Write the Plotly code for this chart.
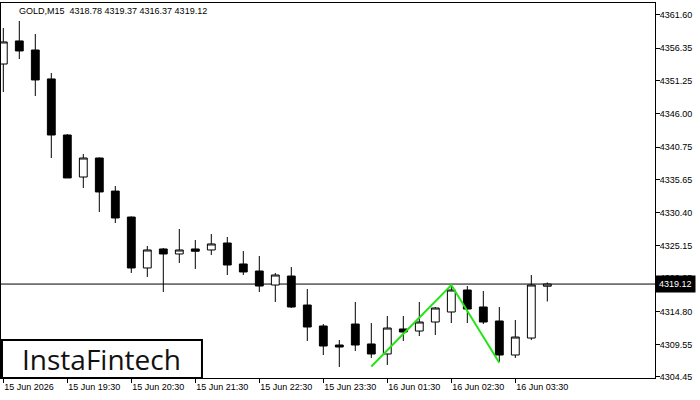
import plotly.graph_objects as go

# ---- data ----
times = [
    "15 Jun 18:30", "15 Jun 18:45", "15 Jun 19:00", "15 Jun 19:15",
    "15 Jun 19:30", "15 Jun 19:45", "15 Jun 20:00", "15 Jun 20:15",
    "15 Jun 20:30", "15 Jun 20:45", "15 Jun 21:00", "15 Jun 21:15",
    "15 Jun 21:30", "15 Jun 21:45", "15 Jun 22:00", "15 Jun 22:15",
    "15 Jun 22:30", "15 Jun 22:45", "15 Jun 23:00", "15 Jun 23:15",
    "15 Jun 23:30", "15 Jun 23:45", "16 Jun 01:00", "16 Jun 01:15",
    "16 Jun 01:30", "16 Jun 01:45", "16 Jun 02:00", "16 Jun 02:15",
    "16 Jun 02:30", "16 Jun 02:45", "16 Jun 03:00", "16 Jun 03:15",
    "16 Jun 03:30", "16 Jun 03:45", "16 Jun 04:00",
]
opens = [4353.86, 4357.50, 4356.07, 4351.50, 4342.65, 4336.02, 4339.02, 4333.80,
         4329.70, 4321.66, 4324.66, 4323.87, 4324.66, 4324.50, 4325.60, 4322.29,
         4321.18, 4318.97, 4320.39, 4315.81, 4312.50, 4309.50, 4312.81, 4309.66,
         4308.08, 4312.03, 4311.71, 4313.13, 4314.71, 4318.18, 4315.50, 4313.29,
         4307.92, 4310.60, 4318.78]
highs = [4359.55, 4360.65, 4358.60, 4352.44, 4342.81, 4339.65, 4339.10, 4334.60,
         4329.80, 4325.13, 4324.81, 4327.81, 4326.08, 4327.02, 4326.55, 4324.34,
         4323.55, 4320.87, 4321.81, 4318.34, 4312.81, 4310.29, 4316.29, 4312.97,
         4314.08, 4314.08, 4316.29, 4315.50, 4318.97, 4318.81, 4318.03, 4315.50,
         4313.45, 4320.55, 4319.37]
lows = [4349.44, 4354.65, 4348.81, 4339.02, 4335.87, 4334.29, 4330.50, 4328.76,
        4320.87, 4320.24, 4317.87, 4322.45, 4321.50, 4323.71, 4320.55, 4320.55,
        4317.87, 4316.29, 4315.34, 4310.13, 4307.92, 4306.03, 4308.55, 4307.45,
        4306.34, 4310.13, 4310.92, 4311.08, 4312.97, 4312.97, 4312.81, 4306.82,
        4307.45, 4310.29, 4316.37]
closes = [4357.34, 4355.92, 4351.34, 4342.65, 4335.87, 4339.02, 4333.66, 4329.55,
          4321.66, 4324.50, 4323.87, 4324.50, 4324.30, 4325.45, 4322.13, 4321.03,
          4318.81, 4320.55, 4315.50, 4312.34, 4309.34, 4309.18, 4309.50, 4308.08,
          4312.18, 4311.55, 4313.13, 4315.34, 4318.18, 4315.18, 4313.13, 4307.92,
          4310.76, 4318.97, 4319.12]

pattern_times = ["16 Jun 01:15", "16 Jun 02:30", "16 Jun 03:15"]
pattern_prices = [4306.10, 4318.97, 4306.70]

last_price = 4319.12
title_text = "GOLD,M15  4318.78 4319.37 4316.37 4319.12"

x_tick_times = ["15 Jun 18:30", "15 Jun 19:30", "15 Jun 20:30", "15 Jun 21:30",
                "15 Jun 22:30", "15 Jun 23:30", "16 Jun 01:30", "16 Jun 02:30",
                "16 Jun 03:30"]
x_tick_labels = ["15 Jun 2026", "15 Jun 19:30", "15 Jun 20:30", "15 Jun 21:30",
                 "15 Jun 22:30", "15 Jun 23:30", "16 Jun 01:30", "16 Jun 02:30",
                 "16 Jun 03:30"]
y_ticks = [4361.60, 4356.35, 4351.25, 4346.00, 4340.75, 4335.65, 4330.40,
           4325.15, 4320.05, 4314.80, 4309.55, 4304.45]

FONT = "Liberation Sans, Arial, sans-serif"

fig = go.Figure()
fig.add_trace(go.Candlestick(
    x=times, open=opens, high=highs, low=lows, close=closes,
    increasing=dict(line=dict(color="black", width=1), fillcolor="white"),
    decreasing=dict(line=dict(color="black", width=1), fillcolor="black"),
    whiskerwidth=0, hoverinfo="skip", showlegend=False,
))
fig.add_trace(go.Scatter(
    x=pattern_times, y=pattern_prices, mode="lines",
    line=dict(color="#22e614", width=2), hoverinfo="skip", showlegend=False,
))

# bid line (behind candles)
fig.add_shape(type="line", xref="paper", yref="y", x0=0, x1=1,
              y0=last_price, y1=last_price, layer="below",
              line=dict(color="black", width=1))

# watermark box
fig.add_shape(type="rect", xref="paper", yref="paper",
              x0=0.0015, x1=0.3073, y0=0.0, y1=0.1013,
              line=dict(color="black", width=2), fillcolor="white", layer="above")
fig.add_annotation(xref="paper", yref="paper", x=0.1544, y=0.0507,
                   text="InstaFintech", showarrow=False,
                   xanchor="center", yanchor="middle",
                   font=dict(family="Open Sans, sans-serif", size=28, color="#111111"))

# title
fig.add_annotation(xref="paper", yref="paper", x=0.0245, y=0.979,
                   text=title_text, showarrow=False,
                   xanchor="left", yanchor="middle",
                   font=dict(family=FONT, size=9, color="black"))

# last price label
fig.add_annotation(xref="paper", yref="y", x=1, y=last_price,
                   text=f"{last_price:.2f}", showarrow=False,
                   xanchor="left", yanchor="middle", bgcolor="black",
                   borderpad=3, xshift=0,
                   font=dict(family=FONT, size=9, color="white"))

fig.update_layout(
    width=700, height=400,
    margin=dict(l=1, r=45, t=3, b=22, autoexpand=False),
    paper_bgcolor="white", plot_bgcolor="white",
    showlegend=False, hovermode=False,
    xaxis=dict(
        type="category", range=[-0.144, 40.73], automargin=False,
        rangeslider=dict(visible=False),
        showgrid=False, zeroline=False,
        showline=True, linecolor="black", linewidth=1, mirror=True,
        ticks="outside", ticklen=4, tickcolor="black", tickwidth=1,
        tickvals=x_tick_times, ticktext=x_tick_labels,
        ticklabelposition="outside right",
        tickfont=dict(family=FONT, size=9, color="black"),
    ),
    yaxis=dict(
        side="right", range=[4304.29, 4363.49], automargin=False,
        showgrid=False, zeroline=False,
        showline=True, linecolor="black", linewidth=1, mirror=True,
        ticks="outside", ticklen=4, tickcolor="black", tickwidth=1,
        ticklabelstandoff=-2,
        tickvals=y_ticks, ticktext=[f"{v:.2f}" for v in y_ticks],
        tickfont=dict(family=FONT, size=9, color="black"),
    ),
)

fig.write_html(
    "out.html",
    config={"displayModeBar": False, "staticPlot": True},
    post_script="document.body.style.margin='0';document.body.style.padding='0';",
)
